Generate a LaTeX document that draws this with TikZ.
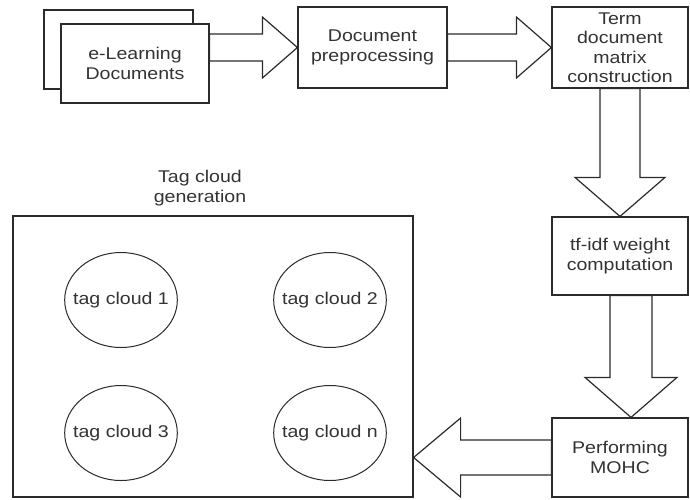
\documentclass[tikz,border=0pt]{standalone}
\usepackage{fontspec}
\setmainfont{Liberation Sans}[FakeStretch=1.15]
\usetikzlibrary{calc,shapes.geometric}
\definecolor{LineGray}{HTML}{2B2B2B}
\definecolor{TextGray}{HTML}{333333}

\begin{document}
\begin{tikzpicture}[x=1pt,y=-1pt,line join=miter,
  box/.style={draw=LineGray,line width=1.2pt,fill=white,text=TextGray,align=center,inner sep=0pt},
  cloud/.style={draw=LineGray,line width=1pt,ellipse,minimum width=112pt,minimum height=95pt,inner xsep=-8pt,inner ysep=0pt,text=TextGray},
  blockarrow/.style={draw=LineGray,line width=1.2pt,fill=white}]
  \useasboundingbox (0,0) rectangle (690,499);
  \fontsize{17}{19.5}\selectfont
  % document stack
  \node[box,minimum width=149pt,minimum height=79pt] (back) at (118.5,49.5) {};
  \node[box,minimum width=148pt,minimum height=79pt] (docs) at (135,63.5) {e-Learning\\Documents};
  \node[box,minimum width=149pt,minimum height=81pt] (prep) at (372.5,47.5) {Document\\preprocessing};
  \node[box,minimum width=136pt,minimum height=81pt] (term) at (620,47.5) {Term\\document\\matrix\\construction};
  \node[box,minimum width=136pt,minimum height=78pt] (tfidf) at (620,256) {tf-idf weight\\computation};
  \node[box,minimum width=136pt,minimum height=79pt] (mohc) at (620,457.5) {Performing\\MOHC};
  % tag cloud generation
  \node[box,minimum width=400pt,minimum height=281pt] (tags) at (213,356.5) {};
  \node[text=TextGray,align=center] (title) at (200,188) {Tag cloud\\generation};
  \node[cloud] (c1) at (121,300) {tag cloud 1};
  \node[cloud] (c2) at (330,300) {tag cloud 2};
  \node[cloud] (c3) at (121,433) {tag cloud 3};
  \node[cloud] (cn) at (330,433) {tag cloud n};
  % block arrows
  \draw[blockarrow] (prep.west) -- ++(-35,-30.5) -- ++(0,17) coordinate (s1) -- (s1 -| docs.east)
    -- ++(0,27) coordinate (s2) -- (s2 -| s1) -- ++(0,17) -- cycle;
  \draw[blockarrow] (term.west) -- ++(-35,-30.5) -- ++(0,17) coordinate (s1) -- (s1 -| prep.east)
    -- ++(0,27) coordinate (s2) -- (s2 -| s1) -- ++(0,17) -- cycle;
  \draw[blockarrow] (tfidf.north) -- ++(-45,-39) -- ++(25,0) coordinate (s1) -- (s1 |- term.south)
    -- ++(40,0) coordinate (s2) -- (s2 |- s1) -- ++(25,0) -- cycle;
  \draw[blockarrow] ($(mohc.north)+(11,0)$) -- ++(-46,-40) -- ++(25,0) coordinate (s1) -- (s1 |- tfidf.south)
    -- ++(42,0) coordinate (s2) -- (s2 |- s1) -- ++(25,0) -- cycle;
  \draw[blockarrow] (tags.east |- mohc.west) -- ++(47,-39.5) -- ++(0,22) coordinate (s1) -- (s1 -| mohc.west)
    -- ++(0,35) coordinate (s2) -- (s2 -| s1) -- ++(0,22) -- cycle;
\end{tikzpicture}
\end{document}
